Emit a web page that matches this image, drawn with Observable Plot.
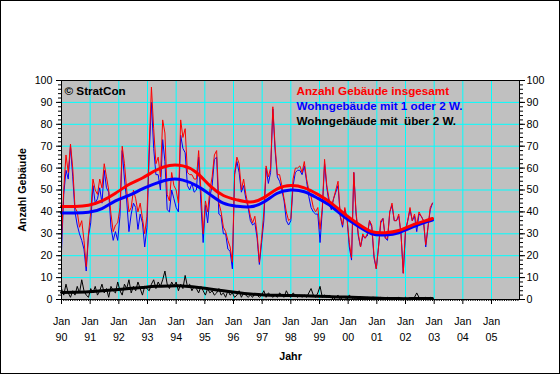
<!DOCTYPE html>
<html>
<head>
<meta charset="utf-8">
<script src="https://cdn.jsdelivr.net/npm/d3@7"></script>
<script src="https://cdn.jsdelivr.net/npm/@observablehq/plot@0.6"></script>
<style>
  html, body { margin: 0; padding: 0; background: white; }
  #chart { position: relative; width: 560px; height: 374px; box-sizing: border-box; border: 1px solid black; background: white; overflow: hidden; font-family: "Liberation Sans", Arial, sans-serif; }
  #title { position: absolute; left: 0; top: 7px; width: 554px; text-align: center; font-weight: bold; font-size: 10.7px; line-height: 15.5px; color: black; }
  #chart svg { position: absolute; left: 0; top: 0; }
</style>
</head>
<body>
<div id="chart">
  <div id="title"></div>
</div>
<script>
// ---- text ----
const titleLines = [
  "Landkreis Rottal-Inn",
  "Baugenehmigungen: Errichtung neuer Wohngebäude",
  "Monatswerte: Jan. 1990 - Okt. 2003",
  "Original- (Quelle: Bay. La f.Statistik u.DV) u. Trendwerte (eigene Berechnung)"
];
const seriesNames = ["Anzahl Gebäude insgesamt", "Wohngebäude mit 1 oder 2 W.", "Wohngebäude mit  über 2 W."];
const yLabel = "Anzahl Gebäude";
const xLabel = "Jahr";
const credit = "© StratCon";
const tickMonth = "Jan";
const tickYears = ["90","91","92","93","94","95","96","97","98","99","00","01","02","03","04","05"];

// ---- monthly values Jan 1990 .. Okt 2003 (166 months) ----
const total = [27,50,66,58,71,60,42,40,33,36,27,15,
30,40,55,50,48,55,51,62,56,50,39,31,
34,35,42,70,62,50,40,42,50,46,40,44,
37,30,38,70,97,78,62,65,56,82,76,48,
45,58,52,50,44,82,74,78,58,57,57,55,
55,68,50,30,45,40,50,56,66,68,44,40,
33,31,27,24,17,58,65,62,50,55,48,43,
38,35,38,30,17,28,40,61,56,60,88,70,
57,57,52,46,40,36,37,55,60,60,61,58,
63,55,50,47,42,40,42,32,42,64,52,46,
42,46,50,54,38,34,42,37,26,19,58,40,
30,24,30,28,30,36,34,20,14,24,36,37,
28,28,40,44,36,36,39,30,12,32,36,42,
36,39,34,40,38,36,25,33,42,44];

const oneTwo = [22,48,59,55,70,56,40,34,30,27,23,13,
29,35,52,44,46,51,44,59,51,49,33,27,
31,27,38,68,55,45,31,39,44,42,32,39,
35,24,33,66,90,69,57,57,50,73,63,41,
40,50,46,42,40,75,69,67,52,50,53,49,
50,65,44,26,43,35,47,52,64,65,39,38,
30,30,23,22,14,57,63,58,49,52,46,42,
36,34,35,28,16,26,36,60,53,58,87,68,
56,54,50,45,36,34,36,52,58,59,59,57,
61,54,47,42,40,39,39,26,41,62,51,44,
41,46,49,52,38,33,41,37,24,18,58,39,
29,24,29,28,29,36,33,19,14,24,35,37,
28,27,40,43,36,36,38,30,12,31,36,41,
36,38,31,39,38,36,24,33,41,44];

const overTwo = [5,2,7,3,1,4,2,6,3,9,4,2,
1,5,3,6,2,4,7,3,5,1,6,4,
3,8,4,2,7,5,9,3,6,4,8,5,
2,6,5,4,7,9,5,8,6,9,13,7,
5,8,6,8,4,7,5,11,6,7,4,6,
5,3,6,4,2,5,3,4,2,3,5,2,
3,1,4,2,3,1,2,4,1,3,2,1,
2,1,3,2,1,2,4,1,3,2,1,2,
1,3,2,1,4,2,1,3,2,1,2,1,
2,1,3,5,2,1,3,6,1,2,1,2,
1,0,1,2,0,1,1,0,2,1,0,1,
1,0,1,0,1,0,1,1,0,0,1,0,
0,1,0,1,0,0,1,0,0,1,0,1,
0,1,3,1,0,0,1,0,1,0];

// ---- trend values read at month index ----
const trendMonths = [0,6,12,18,24,30,36,42,48,54,60,66,72,78,84,90,96,102,108,114,120,126,132,138,144,150,156,162,165];
const totalTrend = [42.5,42.5,43,45,48.5,52.5,55.5,59,61.2,61,58,52,47.5,45.5,44.5,46.5,50.5,52,51,48,44,39,34.5,31,30.5,31.5,34,36,37];
const oneTwoTrend = [39.5,39.5,39.8,41.5,45,47.5,50.5,53,54.8,54.5,52,48,44,42.6,42.3,44.5,48.5,50,49.2,46.2,42.5,37.5,33.5,30,29.5,30.5,33,35.3,36.3];
const overTwoTrend = [3.2,3.3,3.5,4,4.5,5,5.5,6,6.2,6.2,5.6,4.8,4,3.2,2.5,2.1,1.9,1.8,1.7,1.5,1.3,1.1,0.9,0.7,0.5,0.4,0.4,0.5,0.5];

// axis calibration of the original chart: year ticks every 12.75 month slots
const monthsPerTick = 12.75;
const xMax = 203.7;

const colors = ["#ff0000", "#0000ff", "#000000"];

document.getElementById("title").innerHTML = titleLines.map(t => `<div>${t}</div>`).join("");

const tickPos = tickYears.map((_, i) => i * monthsPerTick);
const font = "'Liberation Sans', Arial, sans-serif";

const trendRows = trendMonths.map((m, i) => ({m, t: totalTrend[i], a: oneTwoTrend[i], b: overTwoTrend[i]}));

const plot = Plot.plot({
  width: 558,
  height: 372,
  marginTop: 79,
  marginBottom: 74,
  marginLeft: 60,
  marginRight: 40,
  style: {fontFamily: font, fontSize: "10.7px", background: "white", color: "black", overflow: "visible"},
  x: {domain: [0, xMax]},
  y: {domain: [0, 100]},
  marks: [
    Plot.frame({fill: "#c0c0c0"}),
    Plot.gridY({ticks: d3.range(0, 101, 10), stroke: "#00ffff", strokeOpacity: 1}),
    Plot.gridX({ticks: tickPos, stroke: "#00ffff", strokeOpacity: 1}),
    Plot.lineY(overTwo, {stroke: colors[2], strokeWidth: 1}),
    Plot.line(trendRows, {x: "m", y: "b", stroke: colors[2], strokeWidth: 3, curve: "natural"}),
    Plot.lineY(oneTwo, {stroke: colors[1], strokeWidth: 1}),
    Plot.lineY(total, {stroke: colors[0], strokeWidth: 1}),
    Plot.line(trendRows, {x: "m", y: "a", stroke: colors[1], strokeWidth: 3, curve: "natural"}),
    Plot.line(trendRows, {x: "m", y: "t", stroke: colors[0], strokeWidth: 3, curve: "natural"}),
    Plot.frame({stroke: "black"}),
    // axes
    Plot.axisY({anchor: "left", ticks: d3.range(0, 101, 10), tickSize: 5, tickPadding: 4, label: null}),
    Plot.axisY({anchor: "left", ticks: d3.range(0, 101, 2), tickSize: 3, tickFormat: () => "", label: null}),
    Plot.axisY({anchor: "right", ticks: d3.range(0, 101, 10), tickSize: 5, tickPadding: 2, label: null}),
    Plot.axisY({anchor: "right", ticks: d3.range(0, 101, 2), tickSize: 3, tickFormat: () => "", label: null}),
    Plot.axisX({anchor: "bottom", ticks: tickPos, tickSize: 5, tickPadding: 9, lineHeight: 1.5,
      tickFormat: d => tickMonth + "\n" + tickYears[Math.round(d / monthsPerTick)], label: null}),
    Plot.axisX({anchor: "bottom", ticks: d3.range(0, Math.floor(xMax) + 1), tickSize: 2, tickFormat: () => "", label: null}),
    // labels
    Plot.text([yLabel], {frameAnchor: "left", rotate: -90, dx: -39, fontWeight: "bold", fontSize: 10.7, textAnchor: "middle", lineAnchor: "middle"}),
    Plot.text([xLabel], {frameAnchor: "bottom", dy: 57, fontWeight: "bold", fontSize: 10.7, lineAnchor: "middle"}),
    Plot.text([credit], {frameAnchor: "top-left", dx: 3, dy: 11, fontWeight: "bold", fontSize: 11.7, textAnchor: "start", lineAnchor: "middle", fill: "black"}),
    Plot.text([seriesNames[0]], {frameAnchor: "top-left", dx: 235, dy: 11, fontWeight: "bold", fontSize: 11.7, textAnchor: "start", lineAnchor: "middle", fill: colors[0]}),
    Plot.text([seriesNames[1]], {frameAnchor: "top-left", dx: 235, dy: 26, fontWeight: "bold", fontSize: 11.7, textAnchor: "start", lineAnchor: "middle", fill: colors[1]}),
    Plot.text([seriesNames[2]], {frameAnchor: "top-left", dx: 235, dy: 41, fontWeight: "bold", fontSize: 11.7, textAnchor: "start", lineAnchor: "middle", fill: colors[2]})
  ]
});

document.getElementById("chart").appendChild(plot);
</script>
</body>
</html>
